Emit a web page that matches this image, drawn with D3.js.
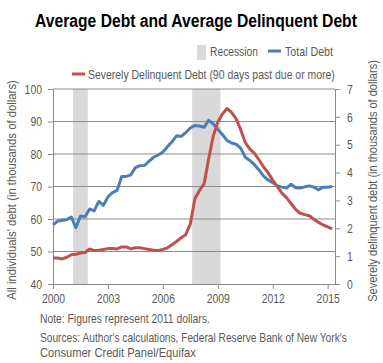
<!DOCTYPE html>
<html>
<head>
<meta charset="utf-8">
<script src="https://cdn.jsdelivr.net/npm/d3@7"></script>
<style>
  body { margin: 0; background: #fff; }
  text { font-family: "Liberation Sans", Arial, sans-serif; }
</style>
</head>
<body>
<div id="graph"></div>
<script>
// quarterly, 2000Q1 .. 2015Q2
var years = [];
for (var i = 0; i < 62; i++) years.push(2000 + i / 4);

var totalDebt = [58.2, 59.3, 59.6, 59.8, 60.6, 57.3, 60.9, 60.7, 63.1, 62.5, 65.4, 64.2,
  66.8, 68.1, 68.8, 73.1, 73.1, 73.6, 75.8, 76.4, 76.5, 77.8, 79.0, 79.7,
  80.6, 82.2, 83.8, 85.6, 85.4, 86.6, 88.0, 88.8, 88.6, 88.2, 90.4, 89.3,
  87.6, 86.0, 84.2, 83.4, 83.0, 81.8, 79.0, 78.0, 76.7, 75.1, 73.2, 72.0,
  71.2, 70.2, 69.8, 69.5, 70.7, 69.6, 69.5, 69.9, 70.2, 69.8, 69.0, 69.8, 69.8, 70.0];

var delinquentDebt = [0.93, 0.93, 0.90, 0.96, 1.05, 1.07, 1.11, 1.13, 1.26, 1.20, 1.21, 1.24,
  1.27, 1.27, 1.26, 1.33, 1.33, 1.26, 1.30, 1.30, 1.27, 1.24, 1.21, 1.20,
  1.24, 1.30, 1.41, 1.53, 1.66, 1.77, 2.16, 3.07, 3.36, 3.59, 4.49, 5.31,
  5.81, 6.10, 6.30, 6.16, 5.93, 5.54, 5.08, 4.84, 4.69, 4.46, 4.20, 3.99,
  3.73, 3.50, 3.26, 3.10, 2.89, 2.68, 2.54, 2.49, 2.45, 2.32, 2.21, 2.12, 2.05, 1.98];

var recessions = [[2001.1, 2001.9], [2007.6, 2009.15]];
var xTicks = [2000, 2003, 2006, 2009, 2012, 2015];
var leftTicks = [40, 50, 60, 70, 80, 90, 100];
var rightTicks = [0, 1, 2, 3, 4, 5, 6, 7];

var blue = "#4a7ebb", red = "#c0504d", gray = "#595959", grid = "#8c8c8c";

var svg = d3.select("#graph").append("svg")
  .attr("width", 383).attr("height", 363);

var x = d3.scaleLinear().domain([2000, 2015.4]).range([53, 335]);
var yL = d3.scaleLinear().domain([40, 100]).range([284, 89]);
var yR = d3.scaleLinear().domain([0, 7]).range([284, 89]);

// the original uses a narrow font: draw normally, then squeeze horizontally to the measured width
function label(str, size, len, tf, anchor, weight) {
  var t = svg.append("text")
    .attr("font-size", size).attr("fill", gray)
    .attr("font-weight", weight || "normal")
    .attr("text-anchor", anchor || "start")
    .text(str);
  var k = len / t.node().getComputedTextLength();
  t.attr("transform", tf + " scale(" + k + ",1)");
  return t;
}

// title
label("Average Debt and Average Delinquent Debt", 18, 322, "translate(196,26.5)", "middle", "bold")
  .attr("fill", "#000");

// recession bars
svg.selectAll("rect.rec")
  .data(recessions)
  .enter().append("rect")
  .attr("class", "rec")
  .attr("x", function (d) { return x(d[0]); })
  .attr("width", function (d) { return x(d[1]) - x(d[0]); })
  .attr("y", yL(100)).attr("height", yL(40) - yL(100))
  .attr("fill", "#d9d9d9");

// gridlines
svg.selectAll("line.grid")
  .data(leftTicks.slice(1))
  .enter().append("line")
  .attr("x1", x(2000)).attr("x2", x(2015.4))
  .attr("y1", function (d) { return yL(d); })
  .attr("y2", function (d) { return yL(d); })
  .attr("stroke", grid).attr("stroke-width", 1);

function styleAxis(g) {
  g.selectAll("path, line").attr("stroke", grid);
  g.selectAll("text").attr("fill", gray).attr("font-size", 13)
    .attr("textLength", function () { return this.textContent.length * 5.8; })
    .attr("lengthAdjust", "spacingAndGlyphs");
}

svg.append("g").attr("transform", "translate(" + x(2000) + ",0)")
  .call(d3.axisLeft(yL).tickValues(leftTicks).tickSize(5).tickSizeOuter(0).tickPadding(6))
  .call(styleAxis);

svg.append("g").attr("transform", "translate(" + x(2015.4) + ",0)")
  .call(d3.axisRight(yR).tickValues(rightTicks).tickFormat(d3.format("d")).tickSize(5).tickSizeOuter(0).tickPadding(7))
  .call(styleAxis);

svg.append("g").attr("transform", "translate(0," + yL(40) + ")")
  .call(d3.axisBottom(x).tickValues(xTicks).tickFormat(d3.format("d")).tickSize(5).tickSizeOuter(0).tickPadding(5))
  .call(styleAxis);

// lines
var lineL = d3.line()
  .x(function (d, i) { return x(years[i]); })
  .y(function (d) { return yL(d); });
var lineR = d3.line()
  .x(function (d, i) { return x(years[i]); })
  .y(function (d) { return yR(d); });

svg.append("path").datum(totalDebt)
  .attr("d", lineL).attr("fill", "none")
  .attr("stroke", blue).attr("stroke-width", 3).attr("stroke-linejoin", "round");

svg.append("path").datum(delinquentDebt)
  .attr("d", lineR).attr("fill", "none")
  .attr("stroke", red).attr("stroke-width", 3).attr("stroke-linejoin", "round");

// legend
svg.append("rect").attr("x", 197).attr("y", 45).attr("width", 9).attr("height", 15).attr("fill", "#d9d9d9");
label("Recession", 12.5, 48, "translate(210,56)");
svg.append("line").attr("x1", 268).attr("x2", 281).attr("y1", 51).attr("y2", 51)
  .attr("stroke", blue).attr("stroke-width", 3);
label("Total Debt", 12.5, 48, "translate(285,56)");
svg.append("line").attr("x1", 72).attr("x2", 85).attr("y1", 74).attr("y2", 74)
  .attr("stroke", red).attr("stroke-width", 3);
label("Severely Delinquent Debt (90 days past due or more)", 12.5, 247, "translate(88,78.5)");

// axis titles
label("All individuals' debt (in thousands of  dollars)", 12.5, 220,
  "translate(16,190) rotate(-90)", "middle");
label("Severely delinquent debt (in thousands of  dollars)", 12.5, 242,
  "translate(377,181) rotate(-90)", "middle");

// notes
label("Note: Figures represent 2011 dollars.", 12, 170, "translate(40,323)");
label("Sources: Author's calculations, Federal Reserve Bank of New York's", 12, 307, "translate(40,342)");
label("Consumer Credit Panel/Equifax", 12, 156, "translate(40,357)");
</script>
</body>
</html>
